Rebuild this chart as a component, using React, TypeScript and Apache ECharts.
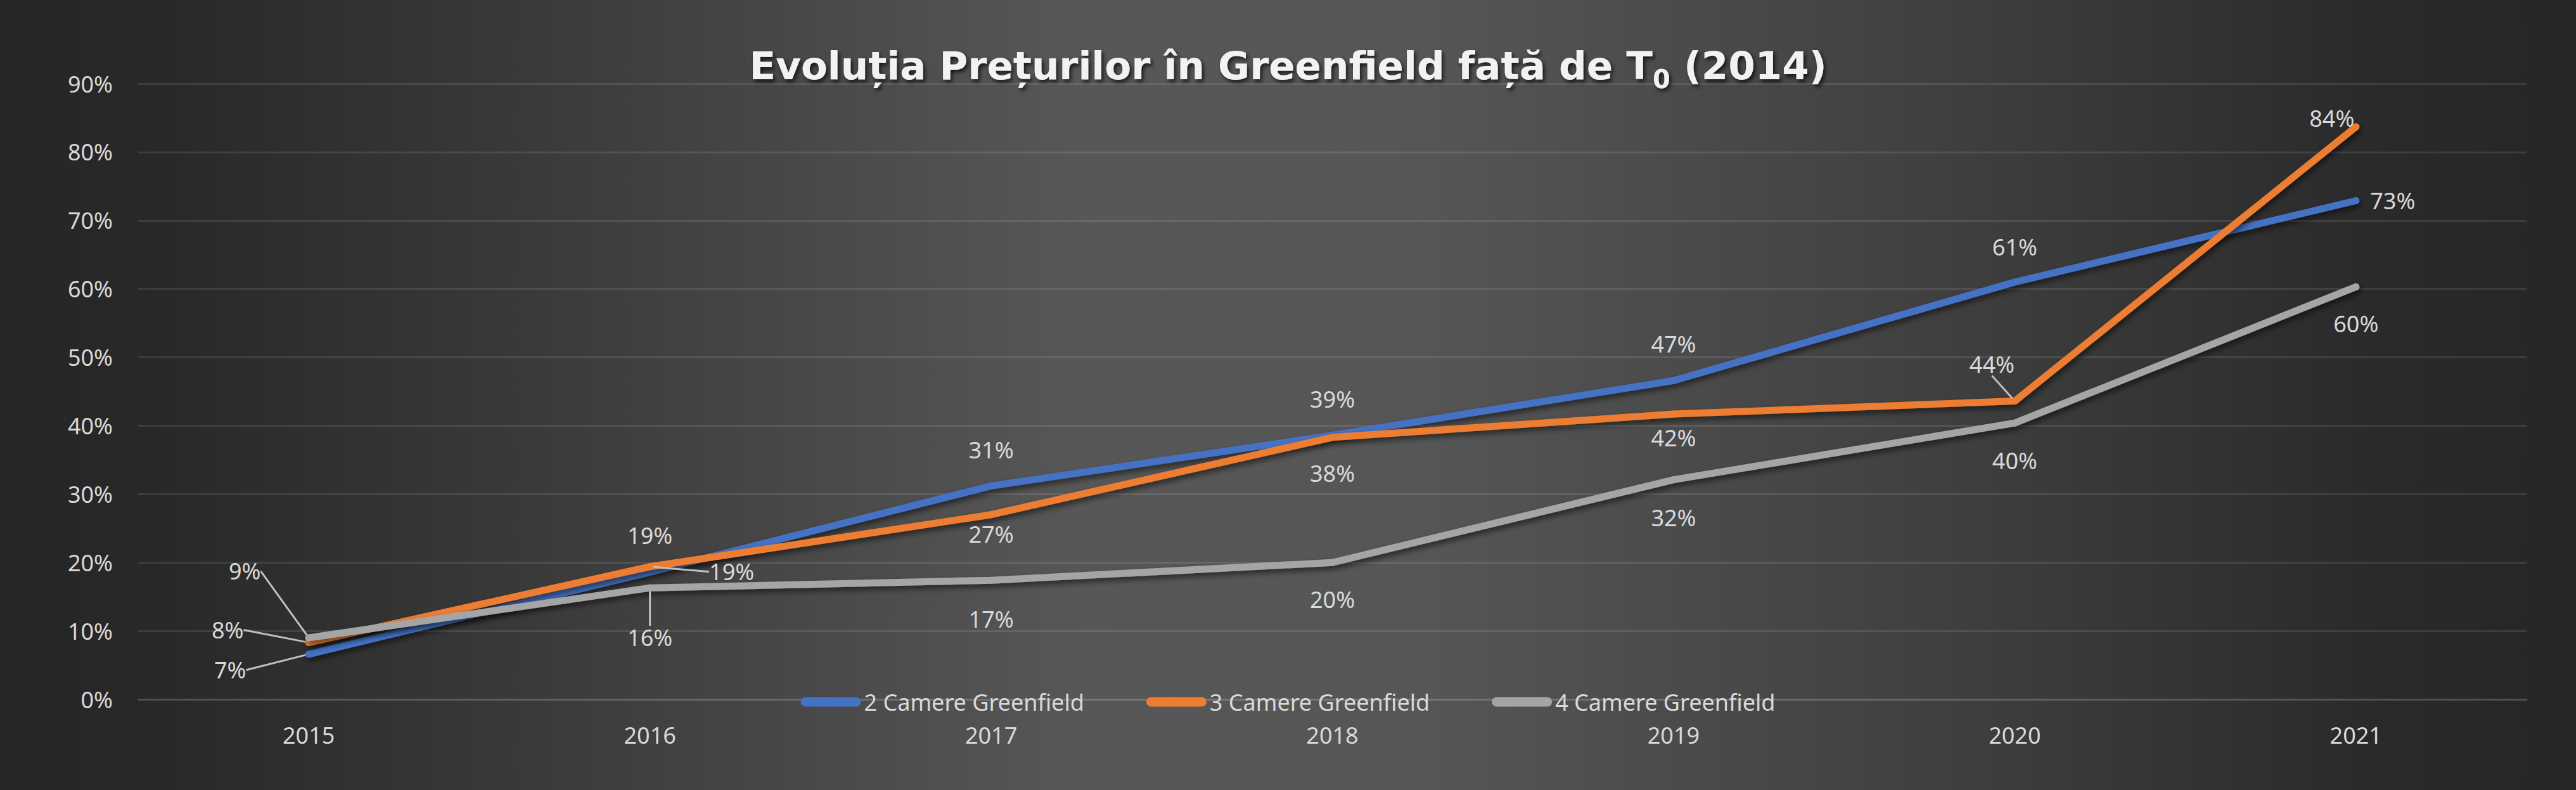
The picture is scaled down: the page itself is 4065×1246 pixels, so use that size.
import React, { useEffect, useRef } from "react";
import * as echarts from "echarts";

const categories = ["2015", "2016", "2017", "2018", "2019", "2020", "2021"];
const seriesNames = ["2 Camere Greenfield", "3 Camere Greenfield", "4 Camere Greenfield"];
const camere2 = [0.066, 0.186, 0.312, 0.386, 0.466, 0.61, 0.729];
const camere3 = [0.083, 0.194, 0.27, 0.383, 0.417, 0.436, 0.837];
const camere4 = [0.09, 0.163, 0.174, 0.2, 0.321, 0.404, 0.603];
const yTicks = [0, 0.1, 0.2, 0.3, 0.4, 0.5, 0.6, 0.7, 0.8, 0.9];

const COLORS = ["#4472C4", "#ED7D31", "#A5A5A5"];
const FONT = "'Noto Sans', 'DejaVu Sans', sans-serif";
const TITLE_FONT = "'DejaVu Sans', 'Noto Sans', sans-serif";
const TXT = "#d9d9d9";

// label offsets (px) from each point, and which labels carry a leader line
const labelOffsets: number[][][] = [
  [[-124, 25], [0, -58], [0, -57], [0, -57], [0, -58], [0, -55], [58, 0]],
  [[-128, -20], [129, 8], [0, 31], [0, 57], [0, 37], [-36, -58], [-38, -13]],
  [[-101, -105], [0, 78], [0, 61], [0, 58], [0, 60], [0, 59], [0, 58]],
];
const leaderLines: boolean[][] = [
  [true, false, false, false, false, false, false],
  [true, true, false, false, false, true, false],
  [true, true, false, false, false, false, false],
];

export default function App() {
  const ref = useRef<HTMLDivElement>(null);
  useEffect(() => {
    if (!ref.current) return;
    const chart = echarts.init(ref.current, undefined, { renderer: "svg" });
    const values = [camere2, camere3, camere4];
    const series = values.map((vals, si) => ({
      name: seriesNames[si],
      type: "line",
      data: vals.map((v, di) => ({
        value: v,
        labelLine: { show: leaderLines[si][di] },
      })),
      symbol: "circle",
      symbolSize: 11,
      showSymbol: true,
      itemStyle: { color: COLORS[si], borderWidth: 0 },
      lineStyle: {
        color: COLORS[si],
        width: 11,
        cap: "round",
        join: "round",
        shadowColor: "rgba(0,0,0,0.55)",
        shadowBlur: 10,
        shadowOffsetX: 3,
        shadowOffsetY: 5,
      },
      label: {
        show: true,
        position: "inside",
        color: TXT,
        fontSize: 36,
        fontFamily: FONT,
        formatter: (p: any) => Math.round(p.value * 100) + "%",
      },
      labelLine: {
        show: false,
        smooth: false,
        lineStyle: { color: "#bfbfbf", width: 3 },
      },
      labelLayout: (p: any) => {
        const o = labelOffsets[p.seriesIndex][p.dataIndex];
        return { dx: o[0], dy: o[1] };
      },
      z: 2 + si,
    }));

    const shadow = {
      textShadowColor: "rgba(0,0,0,0.7)",
      textShadowBlur: 6,
      textShadowOffsetX: 3,
      textShadowOffsetY: 4,
    };

    chart.setOption({
      animation: false,
      backgroundColor: {
        type: "linear",
        x: 0,
        y: 0,
        x2: 1,
        y2: 0,
        colorStops: [
          { offset: 0, color: "#262626" },
          { offset: 0.06, color: "#282828" },
          { offset: 0.2, color: "#393939" },
          { offset: 0.42, color: "#575757" },
          { offset: 0.55, color: "#565656" },
          { offset: 0.75, color: "#404040" },
          { offset: 0.92, color: "#2a2a2a" },
          { offset: 1, color: "#262626" },
        ],
      },
      title: {
        text: "Evoluția Prețurilor în Greenfield față de T{sub|0} (2014)",
        left: "center",
        top: 56,
        textStyle: {
          color: "#f2f2f2",
          fontSize: 61,
          fontWeight: "bold",
          fontFamily: TITLE_FONT,
          ...shadow,
          rich: {
            sub: {
              fontSize: 40,
              fontWeight: "bold",
              color: "#f2f2f2",
              fontFamily: TITLE_FONT,
              padding: [44, 0, 0, 0],
              ...shadow,
            },
          },
        },
      },
      legend: {
        data: seriesNames,
        left: "center",
        top: 1084,
        itemWidth: 95,
        itemHeight: 15,
        itemGap: 98,
        icon: "path://M7.5,0 H87.5 A7.5,7.5 0 0 1 87.5,15 H7.5 A7.5,7.5 0 0 1 7.5,0 Z",
        textStyle: { color: TXT, fontSize: 36, fontFamily: FONT, padding: [0, 0, 0, 0] },
      },
      grid: { left: 218, right: 78, top: 132, bottom: 143 },
      xAxis: {
        type: "category",
        data: categories,
        boundaryGap: true,
        axisLine: { show: true, lineStyle: { color: "rgba(255,255,255,0.1)", width: 3 } },
        axisTick: { show: false },
        axisLabel: { color: TXT, fontSize: 36, fontFamily: FONT, margin: 38 },
      },
      yAxis: {
        type: "value",
        min: yTicks[0],
        max: yTicks[yTicks.length - 1],
        interval: 0.1,
        axisLine: { show: false },
        axisTick: { show: false },
        axisLabel: {
          color: TXT,
          fontSize: 36,
          fontFamily: FONT,
          margin: 40,
          formatter: (v: number) => Math.round(v * 100) + "%",
        },
        splitLine: { lineStyle: { color: "rgba(255,255,255,0.1)", width: 3 } },
      },
      series,
    });
    return () => chart.dispose();
  }, []);
  return (
    <div
      ref={ref}
      style={{ position: "fixed", left: 0, top: 0, width: 4065, height: 1246 }}
    />
  );
}
